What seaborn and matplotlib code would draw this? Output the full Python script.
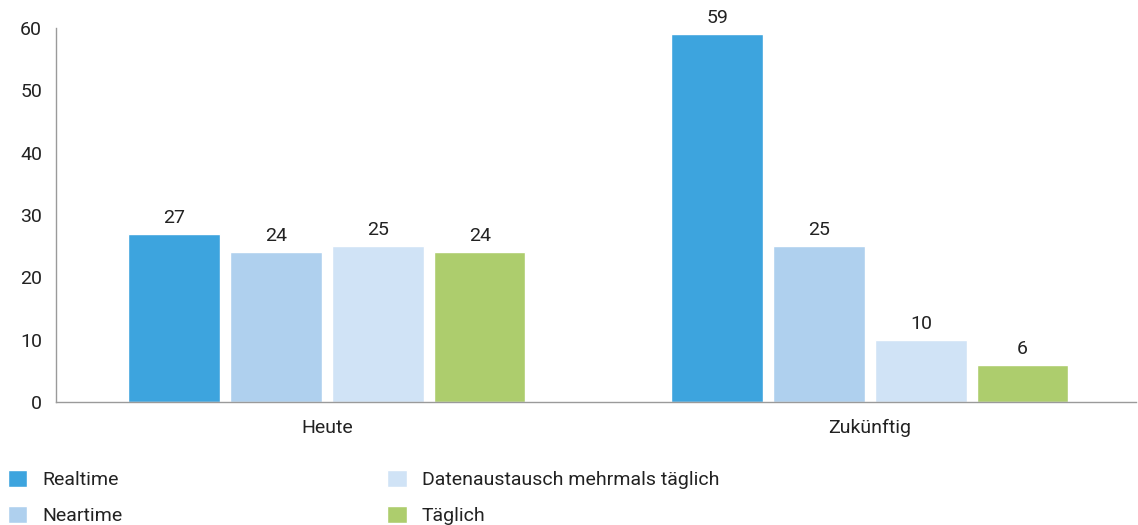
import matplotlib
matplotlib.use("Agg")
import matplotlib.pyplot as plt
import pandas as pd
import seaborn as sns

categories = ["Heute", "Zukünftig"]
series = ["Realtime", "Neartime", "Datenaustausch mehrmals täglich", "Täglich"]
values = {
    "Realtime": [27, 59],
    "Neartime": [24, 25],
    "Datenaustausch mehrmals täglich": [25, 10],
    "Täglich": [24, 6],
}
colors = ["#3da4de", "#afd0ee", "#d0e3f6", "#adcd6d"]

rows = []
for s in series:
    for c, v in zip(categories, values[s]):
        rows.append({"Zeitpunkt": c, "Art": s, "Wert": v})
df = pd.DataFrame(rows)

sns.set_theme(style="white")
plt.rcParams["font.family"] = ["Roboto", "DejaVu Sans"]
fs = 14

fig = plt.figure(figsize=(11.38, 5.25), dpi=100)
ax = fig.add_axes([56 / 1138, 1 - 402 / 525, 1080 / 1138, 374 / 525])

sns.barplot(data=df, x="Zeitpunkt", y="Wert", hue="Art", hue_order=series,
            palette=colors, width=0.75, gap=0.1, saturation=1, ax=ax,
            legend=True)

for cont in ax.containers:
    labels = ax.bar_label(cont, padding=5, fontsize=fs, color="#222222")
    for t in labels:
        t.set_clip_on(False)

ax.set_ylim(0, 60)
ax.set_xlim(-0.499, 1.49)
ax.set_yticks([0, 10, 20, 30, 40, 50, 60])
ax.set_xlabel("")
ax.set_ylabel("")
ax.tick_params(axis="both", length=0, labelsize=fs, labelcolor="#222222")
ax.tick_params(axis="y", pad=10)
ax.tick_params(axis="x", pad=12)
sns.despine(ax=ax)
for side in ["left", "bottom"]:
    ax.spines[side].set_color("#9a9a9a")
    ax.spines[side].set_linewidth(1)

handles, labels = ax.get_legend_handles_labels()
ax.get_legend().remove()
fig.legend(handles, labels, loc="upper left", bbox_to_anchor=(8 / 1138, 1 - 470 / 525),
           ncol=2, frameon=False, fontsize=fs, handlelength=1.0, handleheight=1.0,
           handletextpad=0.78, columnspacing=13.6, labelspacing=0.85,
           borderpad=0, borderaxespad=0, labelcolor="#222222")

fig.savefig("out.png", dpi=100)
